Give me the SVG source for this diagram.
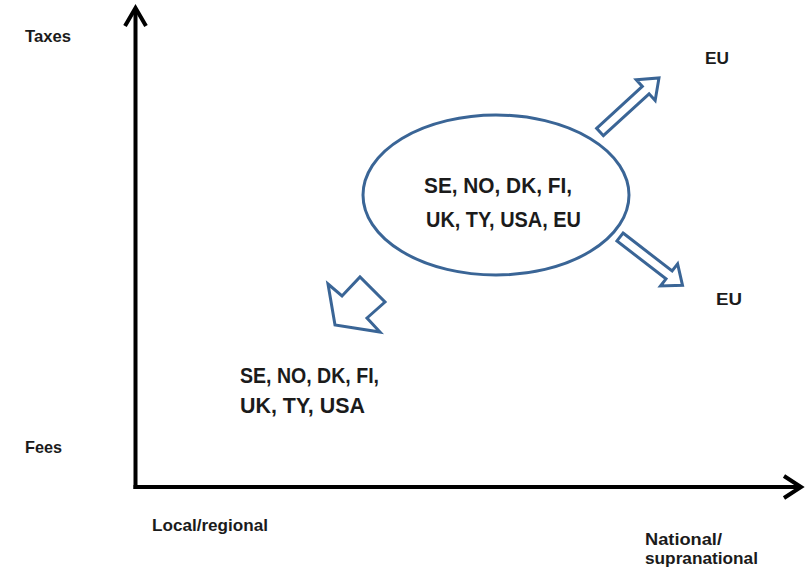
<svg xmlns="http://www.w3.org/2000/svg" width="806" height="573" viewBox="0 0 806 573">
  <style>
    .lbl { font-family: "Liberation Sans", Arial, sans-serif; font-weight: bold; fill: #1b1b1b; }
    .small { font-size: 17px; }
    .big { font-size: 22px; }
    .axis { stroke: #000; stroke-width: 4; fill: none; }
    .block { fill: #fff; stroke: #3a6596; stroke-width: 3; stroke-linejoin: miter; }
  </style>

  <rect width="806" height="573" fill="#fff"/>

  <!-- Axes -->
  <g id="axes">
    <line class="axis" x1="135.5" y1="9" x2="135.5" y2="489"/>
    <line class="axis" x1="133.5" y1="487" x2="800" y2="487"/>
    <polyline class="axis" stroke-width="4.5" points="125,26 135.5,8 146,26"/>
    <polyline class="axis" stroke-width="4.5" points="784,476 801,487 784,498"/>
  </g>

  <!-- Axis labels -->
  <g id="axis-labels">
    <text class="lbl small" x="25" y="42" textLength="46" lengthAdjust="spacingAndGlyphs">Taxes</text>
    <text class="lbl small" x="25" y="453" textLength="37" lengthAdjust="spacingAndGlyphs">Fees</text>
    <text class="lbl small" x="152" y="531" textLength="116" lengthAdjust="spacingAndGlyphs">Local/regional</text>
    <text class="lbl small" x="645" y="545" textLength="77" lengthAdjust="spacingAndGlyphs">National/</text>
    <text class="lbl small" x="645" y="564" textLength="113" lengthAdjust="spacingAndGlyphs">supranational</text>
  </g>

  <!-- Central group of countries -->
  <g id="node-center">
    <ellipse cx="496" cy="195" rx="133" ry="80" fill="none" stroke="#3a6596" stroke-width="3"/>
    <text class="lbl big" x="424" y="193" textLength="148" lengthAdjust="spacingAndGlyphs">SE, NO, DK, FI,</text>
    <text class="lbl big" x="426" y="227" textLength="155" lengthAdjust="spacingAndGlyphs">UK, TY, USA, EU</text>
  </g>

  <!-- Local/regional group -->
  <g id="node-local">
    <text class="lbl big" x="240" y="383" textLength="139" lengthAdjust="spacingAndGlyphs">SE, NO, DK, FI,</text>
    <text class="lbl big" x="240" y="413" textLength="125" lengthAdjust="spacingAndGlyphs">UK, TY, USA</text>
  </g>

  <!-- EU targets -->
  <g id="node-eu-up">
    <text class="lbl small" x="705" y="64" textLength="24" lengthAdjust="spacingAndGlyphs">EU</text>
  </g>
  <g id="node-eu-down">
    <text class="lbl small" x="716" y="305" textLength="26" lengthAdjust="spacingAndGlyphs">EU</text>
  </g>

  <!-- Block arrows -->
  <g id="connectors">
    <polygon class="block" transform="translate(600,132) rotate(-42.5)" points="0,-5 62,-5 62,-14 80,0 62,14 62,5 0,5"/>
    <polygon class="block" transform="translate(620,237) rotate(37.7)" points="0,-5 62,-5 62,-14 79,0 62,14 62,5 0,5"/>
    <polygon class="block" points="328,284 342,296 360,277 385,302 367,318 380,332 335,325"/>
  </g>
</svg>
